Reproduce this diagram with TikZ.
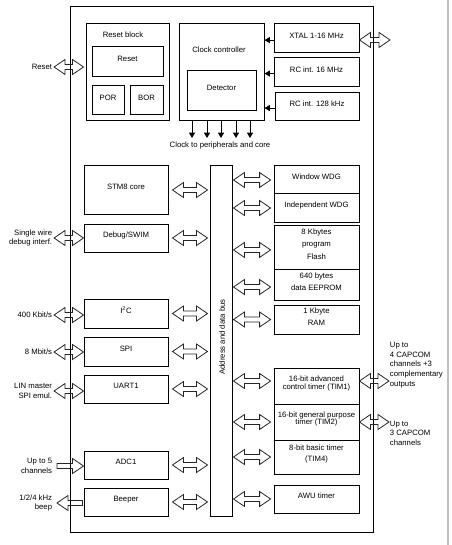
\documentclass[tikz,border=0pt]{standalone}
\usepackage{fontspec}
\setmainfont{Liberation Sans}
\usetikzlibrary{fit,calc,arrows.meta}
\tikzset{
  box/.style={draw, line width=0.75pt, inner sep=0pt, align=center},
  lbl/.style={inner sep=0.5pt, align=right, anchor=east},
  rlbl/.style={inner sep=0.5pt, align=left, anchor=west},
  flexa/.style={draw=black!85, line width=0.6pt, line join=miter},
  clk/.style={line width=0.75pt, -{Triangle[length=4pt,width=4.5pt]}},
}
% double hollow arrow: horizontal from #1 to #2, at the height of #1
\newcommand\dbar[2]{\path[flexa] let \p1=#1, \p2=#2 in
  (\x1,\y1) -- (\x1+8.2pt,\y1+5.6pt) -- (\x1+8.2pt,\y1+1.9pt) -- (\x2-8.2pt,\y1+1.9pt)
  -- (\x2-8.2pt,\y1+5.6pt) -- (\x2,\y1) -- (\x2-8.2pt,\y1-5.6pt) -- (\x2-8.2pt,\y1-1.9pt)
  -- (\x1+8.2pt,\y1-1.9pt) -- (\x1+8.2pt,\y1-5.6pt) -- cycle;}
% single hollow arrow pointing right (#1 back, #2 tip)
\newcommand\rbar[2]{\path[flexa] let \p1=#1, \p2=#2 in
  (\x1,\y1+1.9pt) -- (\x2-8.2pt,\y1+1.9pt) -- (\x2-8.2pt,\y1+5.6pt) -- (\x2,\y1)
  -- (\x2-8.2pt,\y1-5.6pt) -- (\x2-8.2pt,\y1-1.9pt) -- (\x1,\y1-1.9pt) -- cycle;}
% single hollow arrow pointing left (#1 tip, #2 back)
\newcommand\lbar[2]{\path[flexa] let \p1=#1, \p2=#2 in
  (\x1,\y1) -- (\x1+8.2pt,\y1+5.6pt) -- (\x1+8.2pt,\y1+1.9pt) -- (\x2,\y1+1.9pt)
  -- (\x2,\y1-1.9pt) -- (\x1+8.2pt,\y1-1.9pt) -- (\x1+8.2pt,\y1-5.6pt) -- cycle;}
\begin{document}
\begin{tikzpicture}[x=0.75pt,y=-0.75pt,font=\fontsize{5.8}{7.2}\selectfont]
\useasboundingbox (0,0) rectangle (452,545);
\draw[black!25, line width=1.2pt] (448,0) -- (448,545);

% main outline
\node[box, fit={(70,7) (373,532)}] (main) {};

% reset block
\node[box, fit={(86,24) (169,121)}] (rb) {};
\node at (123,35) (rbt) {Reset block};
\node[box, fit={(92,47) (163,77)}] (rst) {Reset};
\node[box, fit={(92,86) (124,115)}] (por) {POR};
\node[box, fit={(130,86) (163,115)}] (bor) {BOR};

% clock controller
\node[box, fit={(179,24) (264,121)}] (cc) {};
\node at (219,50) (cct) {Clock controller};
\node[box, fit={(187,71) (256,111)}] (det) {Detector};
\node[box, fit={(274,24) (359,53)}] (xtal) {XTAL 1-16 MHz};
\node[box, fit={(274,58) (359,87)}] (rc16) {RC int. 16 MHz};
\node[box, fit={(275,93) (359,121)}] (rc128) {RC int. 128 kHz};
\draw[clk] ([yshift=-1.2pt]xtal.west) -- ([yshift=-1.2pt]xtal.west -| cc.east);
\draw[clk] ([yshift=-0.8pt]rc16.west) -- ([yshift=-0.8pt]rc16.west -| cc.east);
\draw[clk] ([yshift=-0.8pt]rc128.west) -- ([yshift=-0.8pt]rc128.west -| cc.east);

\foreach \i/\xx in {1/192,2/207,3/221,4/236,5/250}{
  \coordinate (ck\i) at (\xx,138);
  \draw[clk] (cc.south -| ck\i) -- (ck\i);
}
\node at (220,146) (ckt) {Clock to peripherals and core};

% left column
\node[box, fit={(84,166) (168,214)}] (stm) {STM8 core};
\node[box, fit={(84,224) (168,252)}] (dbg) {Debug/SWIM};
\node[box, fit={(84,299) (168,328)}] (i2c) {I\textsuperscript{2}C};
\node[box, fit={(84,337) (168,366)}] (spi) {SPI};
\node[box, fit={(84,375) (168,403)}] (uart) {UART1};
\node[box, fit={(84,451) (168,479)}] (adc) {ADC1};
\node[box, fit={(84,488) (168,516)}] (beep) {Beeper};

% bus
\node[box, fit={(210,166) (232,516)}] (bus) {};
\node[rotate=90] at (222,337) (bust) {Address and data bus};

% right column
\node[box, fit={(274,166) (359,194)}] (wwdg) {Window WDG};
\node[box, fit={(274,194) (359,222)}] (iwdg) {Independent WDG};
\node[box, fit={(274,225) (359,269)}] (flash) {8 Kbytes\\[2pt]program\\[2pt]Flash};
\node[box, fit={(274,269) (359,300)}] (eep) {640 bytes\\[1.5pt]data EEPROM};
\node[box, fit={(274,305) (359,334)}] (ram) {1 Kbyte\\[2pt]RAM};
\node[box, fit={(274,368) (359,404)}] (tim1) {16-bit advanced\\[-1.5pt]control timer (TIM1)};
\node[box, fit={(274,404) (359,440)}] (tim2) {16-bit general purpose\\[-2pt]timer (TIM2)};
\node[box, fit={(274,440) (359,474)}] (tim4) {8-bit basic timer\\[1pt](TIM4)};
\node[box, fit={(274,485) (359,513)}] (awu) {AWU timer};

% external labels
\node[lbl] at (53,67) (lreset) {Reset};
\node[lbl] at (53,238) (lswim) {Single wire\\debug interf.};
\node[lbl] at (53,315) (li2c) {400 Kbit/s};
\node[lbl] at (53,352) (lspi) {8 Mbit/s};
\node[lbl] at (53,391) (luart) {LIN master\\SPI emul.};
\node[lbl] at (53,466) (ladc) {Up to 5\\channels};
\node[lbl] at (53,503) (lbeep) {1/2/4 kHz\\beep};
\node[rlbl] at (389,365) (ltim1) {Up to\\4 CAPCOM\\channels +3\\complementary\\outputs};
\node[rlbl] at (389,433) (ltim2) {Up to\\3 CAPCOM\\channels};
\coordinate (xext) at (390,40);
\coordinate (t1ext) at (389,381);
\coordinate (t2ext) at (389,422);

% external arrows
\dbar{([xshift=0.8pt]lreset.east)}{([xshift=-1.5pt]rb.west)}
\dbar{([xshift=0.8pt]lswim.east)}{(dbg.west)}
\dbar{([xshift=0.8pt]li2c.east)}{(i2c.west)}
\dbar{([xshift=0.8pt]lspi.east)}{(spi.west)}
\dbar{([xshift=0.8pt]luart.east)}{(uart.west)}
\rbar{([xshift=3pt]ladc.east)}{(adc.west)}
\lbar{([xshift=3pt]lbeep.east)}{([xshift=-0.75pt]beep.west)}
\dbar{([yshift=-1.1pt]xtal.east)}{(xext)}
\dbar{([yshift=3.75pt]tim1.east)}{(t1ext)}
\dbar{(tim2.east)}{(t2ext)}

% bus arrows, left
\foreach \b in {stm,dbg,i2c,spi,uart,adc,beep}{
  \dbar{([xshift=3pt]\b.east)}{([xshift=-1.5pt]bus.west)}
}
% bus arrows, right
\dbar{([xshift=0.75pt]bus.east |- wwdg.west)}{([xshift=-2.2pt]wwdg.west)}
\dbar{([xshift=0.75pt]bus.east |- iwdg.west)}{([xshift=-2.2pt]iwdg.west)}
\dbar{([xshift=0.75pt,yshift=-2.2pt]bus.east |- flash.west)}{([xshift=-2.2pt]flash.west)}
\dbar{([xshift=0.75pt,yshift=-1.9pt]bus.east |- eep.west)}{([xshift=-2.2pt]eep.west)}
\dbar{([xshift=0.75pt]bus.east |- ram.west)}{([xshift=-2.2pt]ram.west)}
\dbar{([xshift=0.75pt,yshift=3.75pt]bus.east |- tim1.west)}{([xshift=-2.2pt]tim1.west)}
\dbar{([xshift=0.75pt]bus.east |- tim2.west)}{([xshift=-2.2pt]tim2.west)}
\dbar{([xshift=0.75pt]bus.east |- tim4.west)}{([xshift=-2.2pt]tim4.west)}
\dbar{([xshift=0.75pt]bus.east |- awu.west)}{([xshift=-2.2pt]awu.west)}
\end{tikzpicture}
\end{document}
